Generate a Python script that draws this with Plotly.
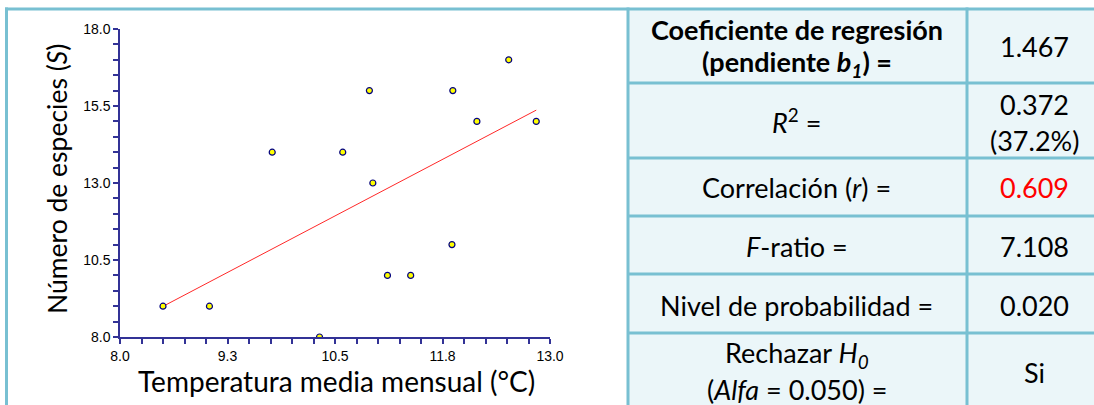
import numpy as np
import plotly.graph_objects as go

# ---- data ----
temperatura = [8.5, 9.04, 9.77, 10.32, 10.59, 10.9, 10.94, 11.11, 11.38, 11.86, 11.87, 12.15, 12.52, 12.84]
especies = [9, 9, 14, 8, 14, 16, 13, 10, 10, 11, 16, 15, 17, 15]

x_tickvals = [8.0, 9.25, 10.5, 11.75, 13.0]
x_ticktext = ["8.0", "9.3", "10.5", "11.8", "13.0"]
y_tickvals = [8.0, 10.5, 13.0, 15.5, 18.0]
y_ticktext = ["8.0", "10.5", "13.0", "15.5", "18.0"]

table_labels = [
    ["<b>Coeficiente de regresión</b>", "<b>(pendiente <i>b<sub>1</sub></i>) =</b>"],
    ["<i>R</i><sup>2</sup> ="],
    ["Correlación (<i>r</i>) ="],
    ["<i>F</i>-ratio ="],
    ["Nivel de probabilidad ="],
    ["Rechazar <i>H<sub>0</sub></i>", "(<i>Alfa</i> = 0.050) ="],
]
table_values = [["1.467"], ["0.372", "(37.2%)"], ["0.609"], ["7.108"], ["0.020"], ["Si"]]
value_colors = ["black", "black", "red", "black", "black", "black"]

# ---- layout geometry (pixels) ----
W, H = 1094, 405
def px(x):
    return x / W
def py(y):
    return 1 - y / H

BORDER = "rgb(120,192,210)"
FILL = "rgb(235,246,249)"
AXIS = "rgb(50,50,150)"
FONT = "Lato"

slope, intercept = np.polyfit(temperatura, especies, 1)
xl = np.array([min(temperatura), max(temperatura)])
yl = slope * xl + intercept

fig = go.Figure()
fig.add_trace(go.Scatter(x=xl, y=yl, mode="lines",
                         line=dict(color="rgb(255,40,40)", width=1), hoverinfo="skip"))
fig.add_trace(go.Scatter(x=temperatura, y=especies, mode="markers",
                         marker=dict(size=6, color="yellow",
                                     line=dict(color="rgb(0,0,128)", width=1.2))))

axis_common = dict(
    showline=True, linecolor=AXIS, linewidth=1.5, mirror=False,
    ticks="outside", ticklen=5, tickcolor=AXIS, tickwidth=1.5,
    showgrid=False, zeroline=False, automargin=False,
    tickfont=dict(family="Liberation Sans", size=14, color="black"),
)

fig.update_layout(
    width=W, height=H, margin=dict(l=0, r=0, t=0, b=0, pad=0), autosize=False,
    paper_bgcolor="white", plot_bgcolor="white", showlegend=False,
    xaxis=dict(domain=[px(120), px(550)], range=[8, 13], tickmode="array",
               tickvals=x_tickvals, ticktext=x_ticktext,
               minor=dict(tick0=8, dtick=0.25, ticks="outside", ticklen=5,
                          tickcolor=AXIS, tickwidth=1.5),
               **axis_common),
    yaxis=dict(domain=[py(337), py(29)], range=[8, 18], tickmode="array",
               tickvals=y_tickvals, ticktext=y_ticktext,
               minor=dict(tick0=8, dtick=0.5, ticks="outside", ticklen=5,
                          tickcolor=AXIS, tickwidth=1.5),
               **axis_common),
)

shapes = []
# table background
shapes.append(dict(type="rect", xref="paper", yref="paper",
                   x0=px(628), x1=px(1110), y0=py(415), y1=py(9),
                   fillcolor=FILL, line=dict(width=0), layer="below"))
# row boundaries
row_lines = [9, 83, 158, 216, 274, 333]
for i, yy in enumerate(row_lines):
    x0 = 5 if i == 0 else 628
    shapes.append(dict(type="line", xref="paper", yref="paper",
                       x0=px(x0), x1=px(1100), y0=py(yy), y1=py(yy),
                       line=dict(color=BORDER, width=3)))
# vertical lines
for xx in [6.5, 628, 967]:
    shapes.append(dict(type="line", xref="paper", yref="paper",
                       x0=px(xx), x1=px(xx), y0=py(7.5), y1=py(410),
                       line=dict(color=BORDER, width=3)))
fig.update_layout(shapes=shapes)

def note(text, x, y, size, color="black", angle=0):
    return dict(text=text, x=px(x), y=py(y), xref="paper", yref="paper",
                xanchor="center", yanchor="middle", showarrow=False,
                textangle=angle, font=dict(family=FONT, size=size, color=color))

ann = []
ann.append(note("Temperatura media mensual (°C)", 336, 381, 28))
ann.append(note("Número de especies (<i>S</i>)", 57, 179, 26.5, angle=-90))

label_y = [[29, 64], [121], [188], [246], [305], [354, 389]]
value_y = [[47], [104, 140], [188], [246], [305], [372]]
for labels, ys in zip(table_labels, label_y):
    for t, yy in zip(labels, ys):
        ann.append(note(t, 797, yy, 27))
for vals, ys, c in zip(table_values, value_y, value_colors):
    for t, yy in zip(vals, ys):
        ann.append(note(t, 1034, yy, 27, color=c))
fig.update_layout(annotations=ann)

fig.write_html("out.html", config={"displayModeBar": False},
               post_script="document.body.style.margin='0';document.body.style.overflow='hidden';")
